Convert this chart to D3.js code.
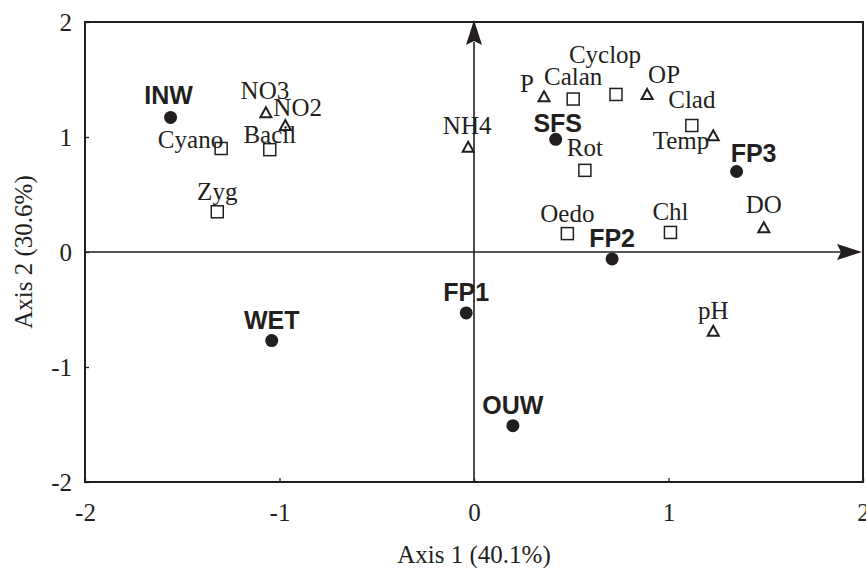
<!DOCTYPE html>
<meta charset="utf-8">
<style>
body{ margin:0; background:#fff; }
text{ fill:#231f20; }
.lab{ font-family:"Liberation Serif","Times New Roman",serif; font-size:25px; }
.site{ font-family:"Liberation Sans",Arial,sans-serif; font-size:25px; font-weight:bold; }
.tick text{ font-family:"Liberation Serif","Times New Roman",serif; font-size:25px; }
.title{ font-family:"Liberation Serif","Times New Roman",serif; font-size:25px; text-anchor:middle; }
</style>
<body>
<script src="https://d3js.org/d3.v7.min.js"></script>
<script>

// sampling sites (filled circles)
var sites = [['INW',-1.56,1.17],
['SFS',0.42,0.98],
['FP3',1.35,0.70],
['FP2',0.71,-0.06],
['FP1',-0.04,-0.53],
['WET',-1.04,-0.77],
['OUW',0.20,-1.51]];

// taxa (open squares)
var taxa = [['Cyano',-1.30,0.90],
['Bacil',-1.05,0.89],
['Zyg',-1.32,0.35],
['Calan',0.51,1.33],
['Cyclop',0.73,1.37],
['Clad',1.12,1.10],
['Rot',0.57,0.71],
['Oedo',0.48,0.16],
['Chl',1.01,0.17]];

// environmental variables (open triangles)
var envVars = [['NO3',-1.07,1.21],
['NO2',-0.97,1.10],
['NH4',-0.03,0.91],
['P',0.36,1.35],
['OP',0.89,1.37],
['Temp',1.23,1.01],
['DO',1.49,0.21],
['pH',1.23,-0.69]];

var ticks = [-2,-1,0,1,2];
var xTitle = 'Axis 1 (40.1%)', yTitle = 'Axis 2 (30.6%)';

// label placement relative to the marker
var labelPos = {
  INW:{dx:-2,dy:-13}, NO3:{dx:-1,dy:-14}, NO2:{dx:-12,dy:-10,a:'start'},
  Bacil:{dx:0,dy:-7}, Cyano:{dx:2,dy:-1,a:'end'}, P:{dx:-10,dy:-5,a:'end'},
  Calan:{dx:0,dy:-14}, Cyclop:{dx:-11,dy:-31}, OP:{dx:1,dy:-11,a:'start'},
  Clad:{dx:0,dy:-18}, SFS:{dx:2,dy:-7}, Temp:{dx:-4,dy:13,a:'end'},
  Rot:{dx:0,dy:-14}, FP3:{dx:17,dy:-10}, DO:{dx:0,dy:-15}, NH4:{dx:-1,dy:-13}
};

var W = 866, H = 568;
var m = {left:85, right:3, top:22, bottom:86};

var svg = d3.select('body').append('svg').attr('width',W).attr('height',H);

var x = d3.scaleLinear().domain([-2,2]).range([m.left, W-m.right]);
var y = d3.scaleLinear().domain([-2,2]).range([H-m.bottom, m.top]);

// axes with inner ticks
var xAxis = svg.append('g').attr('transform','translate(0,'+y(-2)+')')
  .call(d3.axisBottom(x).tickValues(ticks).tickFormat(d=>String(d)).tickSizeInner(-4).tickSizeOuter(0).tickPadding(21));
var yAxis = svg.append('g').attr('transform','translate('+x(-2)+',0)')
  .call(d3.axisLeft(y).tickValues(ticks).tickFormat(d=>String(d)).tickSizeInner(-4).tickSizeOuter(0).tickPadding(13));
[xAxis,yAxis].forEach(function(a){
  a.select('.domain').remove();
  a.selectAll('.tick line').attr('stroke','#231f20').attr('stroke-width',1.3);
  a.selectAll('.tick text').attr('fill','#231f20');
});

// frame
svg.append('rect').attr('x',x(-2)).attr('y',y(2))
  .attr('width',x(2)-x(-2)).attr('height',y(-2)-y(2))
  .attr('fill','none').attr('stroke','#231f20').attr('stroke-width',2);

// centre axes with arrow heads
var arrow = 'M0,0 L-25,-8 L-21,0 L-25,8 Z';
svg.append('line').attr('x1',x(-2)).attr('x2',x(2)-20).attr('y1',y(0)).attr('y2',y(0))
  .attr('stroke','#231f20').attr('stroke-width',1.6);
svg.append('path').attr('d',arrow).attr('fill','#231f20')
  .attr('transform','translate('+(x(2)-1)+','+y(0)+')');
svg.append('line').attr('x1',x(0)).attr('x2',x(0)).attr('y1',y(-2)).attr('y2',y(2)+20)
  .attr('stroke','#231f20').attr('stroke-width',1.6);
svg.append('path').attr('d',arrow).attr('fill','#231f20')
  .attr('transform','translate('+x(0)+','+(y(2)-2)+') rotate(-90)');

// titles
svg.append('text').attr('class','title').attr('x',x(0)).attr('y',H-5).text(xTitle);
svg.append('text').attr('class','title')
  .attr('transform','translate(32,'+y(0)+') rotate(-90)').text(yTitle);

// markers
svg.append('g').selectAll('circle').data(sites).join('circle')
  .attr('cx',d=>x(d[1])).attr('cy',d=>y(d[2])).attr('r',6.5).attr('fill','#231f20');

svg.append('g').selectAll('rect').data(taxa).join('rect')
  .attr('x',d=>x(d[1])-6).attr('y',d=>y(d[2])-6).attr('width',12).attr('height',12)
  .attr('fill','#fff').attr('stroke','#231f20').attr('stroke-width',1.5);

svg.append('g').selectAll('path').data(envVars).join('path')
  .attr('d','M0,-5.5 L5.5,4.5 L-5.5,4.5 Z')
  .attr('transform',d=>'translate('+x(d[1])+','+y(d[2])+')')
  .attr('fill','#fff').attr('stroke','#231f20').attr('stroke-width',2);

// labels
function addLabels(data, cls){
  svg.append('g').selectAll('text').data(data).join('text')
    .attr('class',cls)
    .attr('x',d=>x(d[1])+(labelPos[d[0]]?labelPos[d[0]].dx:0))
    .attr('y',d=>y(d[2])+(labelPos[d[0]]?labelPos[d[0]].dy:-12))
    .attr('text-anchor',d=>(labelPos[d[0]]&&labelPos[d[0]].a)||'middle')
    .text(d=>d[0]);
}
addLabels(taxa,'lab');
addLabels(envVars,'lab');
addLabels(sites,'site');

</script>
</body>
